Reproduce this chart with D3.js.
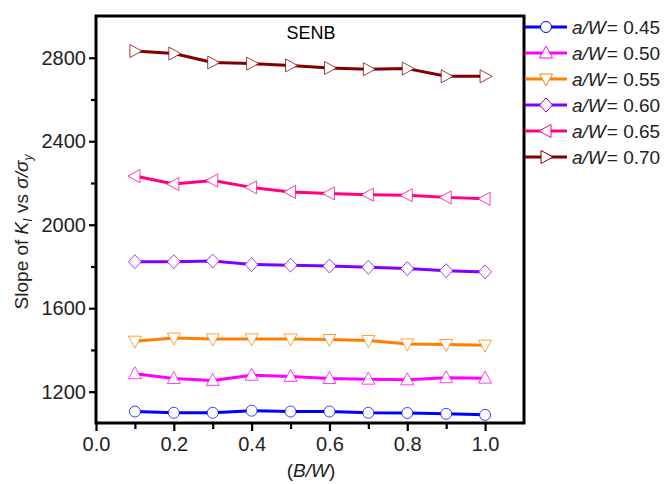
<!DOCTYPE html>
<html>
<head>
<meta charset="utf-8">
<script src="https://cdn.jsdelivr.net/npm/d3@7"></script>
<style>
  html, body { margin: 0; padding: 0; background: #fff; }
  svg { display: block; font-family: "Liberation Sans", Arial, sans-serif; }
</style>
</head>
<body>
<svg id="chart" width="666" height="484"></svg>
<script>
// B/W positions along the x axis
const bw = [0.1, 0.2, 0.3, 0.4, 0.5, 0.6, 0.7, 0.8, 0.9, 1.0];

// slope of K_I vs sigma/sigma_y for each crack ratio a/W
const aw045 = [1105, 1099, 1099, 1109, 1105, 1105, 1099, 1098, 1094, 1089];
const aw050 = [1286, 1263, 1254, 1279, 1273, 1263, 1260, 1257, 1267, 1265];
const aw055 = [1442, 1457, 1453, 1453, 1453, 1450, 1445, 1429, 1426, 1423];
const aw060 = [1823, 1823, 1826, 1809, 1806, 1802, 1796, 1790, 1780, 1774];
const aw065 = [2233, 2195, 2212, 2179, 2157, 2150, 2144, 2141, 2131, 2124];
const aw070 = [2832, 2820, 2777, 2772, 2763, 2751, 2745, 2748, 2711, 2711];

const seriesLabels = ["0.45", "0.50", "0.55", "0.60", "0.65", "0.70"];
const seriesValues = [aw045, aw050, aw055, aw060, aw065, aw070];
const seriesColors = ["#0000ff", "#ff00ff", "#ff8000", "#8000ff", "#ff0080", "#800000"];
const seriesShapes = ["circle", "triUp", "triDown", "diamond", "triLeft", "triRight"];

const xTicks = [0.0, 0.2, 0.4, 0.6, 0.8, 1.0];
const xMinorTicks = [0.1, 0.3, 0.5, 0.7, 0.9];
const yTicks = [1200, 1600, 2000, 2400, 2800];
const yMinorTicks = [1400, 1800, 2200, 2600];

const svg = d3.select("#chart");
const plot = { left: 96, right: 524, top: 16, bottom: 423 };

const x = d3.scaleLinear().domain([0, 1.1]).range([plot.left, plot.right]);
const y = d3.scaleLinear().domain([1050, 3000]).range([plot.bottom, plot.top]);

// marker outlines, centred on the origin
function markerPath(shape) {
  const p = d3.path();
  if (shape === "circle") {
    p.arc(0, 0, 5.5, 0, 2 * Math.PI);
  } else if (shape === "triUp") {
    p.moveTo(0, -7); p.lineTo(6.5, 5); p.lineTo(-6.5, 5); p.closePath();
  } else if (shape === "triDown") {
    p.moveTo(0, 7); p.lineTo(6.5, -5); p.lineTo(-6.5, -5); p.closePath();
  } else if (shape === "diamond") {
    p.moveTo(0, -7); p.lineTo(6.5, 0); p.lineTo(0, 7); p.lineTo(-6.5, 0); p.closePath();
  } else if (shape === "triLeft") {
    p.moveTo(-7, 0); p.lineTo(5, -6.5); p.lineTo(5, 6.5); p.closePath();
  } else {
    p.moveTo(7, 0); p.lineTo(-5, -6.5); p.lineTo(-5, 6.5); p.closePath();
  }
  return p.toString();
}

// axes with outward ticks
const axisFont = "20px";
svg.append("g").attr("transform", `translate(0,${plot.bottom})`)
  .call(d3.axisBottom(x).tickValues(xTicks).tickFormat(d3.format(".1f")).tickSize(8).tickPadding(6));
svg.append("g").attr("transform", `translate(0,${plot.bottom})`)
  .call(d3.axisBottom(x).tickValues(xMinorTicks).tickFormat("").tickSize(6))
  .call(g => g.select(".domain").remove());
svg.append("g").attr("transform", `translate(${plot.left},0)`)
  .call(d3.axisLeft(y).tickValues(yTicks).tickFormat(d3.format("d")).tickSize(7).tickPadding(3));
svg.append("g").attr("transform", `translate(${plot.left},0)`)
  .call(d3.axisLeft(y).tickValues(yMinorTicks).tickFormat("").tickSize(5))
  .call(g => g.select(".domain").remove());

svg.selectAll(".tick line").attr("stroke", "#000").attr("stroke-width", 2.2);
svg.selectAll(".domain").remove();
svg.selectAll(".tick text").attr("font-size", axisFont).attr("fill", "#222")
  .attr("font-family", "Liberation Sans, Arial, sans-serif");

// frame around the plot
svg.append("rect")
  .attr("x", plot.left).attr("y", plot.top)
  .attr("width", plot.right - plot.left).attr("height", plot.bottom - plot.top)
  .attr("fill", "none").attr("stroke", "#000").attr("stroke-width", 3);

// series lines and markers
const line = d3.line().x((d, i) => x(bw[i])).y(d => y(d));
seriesValues.forEach((vals, s) => {
  const g = svg.append("g");
  g.append("path").datum(vals).attr("d", line)
    .attr("fill", "none").attr("stroke", seriesColors[s]).attr("stroke-width", 3)
    .attr("stroke-linejoin", "round");
  g.selectAll("path.mk").data(vals).join("path").attr("class", "mk")
    .attr("transform", (d, i) => `translate(${x(bw[i])},${y(d)})`)
    .attr("d", markerPath(seriesShapes[s]))
    .attr("fill", "#fff").attr("stroke", seriesColors[s]).attr("stroke-width", 1)
    .attr("stroke-opacity", 0.75);
});

// title inside the frame
svg.append("text").attr("x", 311).attr("y", 39).attr("text-anchor", "middle")
  .attr("font-size", "18px").attr("fill", "#000").text("SENB");

// x axis title
const xt = svg.append("text").attr("x", 311).attr("y", 477).attr("text-anchor", "middle")
  .attr("font-size", "19px").attr("fill", "#222");
xt.append("tspan").text("(");
xt.append("tspan").attr("font-style", "italic").text("B/W");
xt.append("tspan").text(")");

// y axis title
const yt = svg.append("text").attr("transform", "translate(28,232) rotate(-90)")
  .attr("text-anchor", "middle").attr("font-size", "19px").attr("fill", "#222");
yt.append("tspan").text("Slope of ");
yt.append("tspan").attr("font-style", "italic").text("K");
yt.append("tspan").attr("font-style", "italic").attr("font-size", "12px").attr("dy", 4).text("I");
yt.append("tspan").attr("dy", -4).text(" vs ");
yt.append("tspan").attr("font-style", "italic").text("σ/σ");
yt.append("tspan").attr("font-style", "italic").attr("font-size", "12px").attr("dy", 4).text("y");

// legend to the right of the frame
const legend = svg.append("g");
seriesLabels.forEach((lab, s) => {
  const ly = 27 + s * 26;
  legend.append("line").attr("x1", 525).attr("x2", 567).attr("y1", ly).attr("y2", ly)
    .attr("stroke", seriesColors[s]).attr("stroke-width", 3);
  legend.append("path").attr("transform", `translate(546,${ly})`)
    .attr("d", markerPath(seriesShapes[s]))
    .attr("fill", "#fff").attr("stroke", seriesColors[s]).attr("stroke-width", 1);
  const t = legend.append("text").attr("x", 572).attr("y", ly + 7)
    .attr("font-size", "19px").attr("fill", "#222");
  t.append("tspan").attr("font-style", "italic").text("a/W");
  t.append("tspan").attr("dx", 1).text("= " + lab);
});
</script>
</body>
</html>
